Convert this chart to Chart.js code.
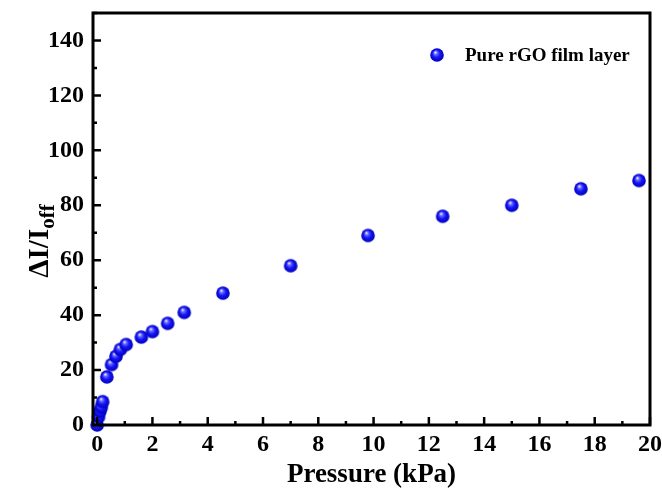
<!DOCTYPE html>
<html><head><meta charset="utf-8">
<script src="https://cdn.jsdelivr.net/npm/chart.js@4/dist/chart.umd.min.js"></script>
<style>html,body{margin:0;padding:0;background:#fff}#wrap{width:662px;height:491px;position:relative}</style>
</head><body><div id="wrap"><canvas id="c" width="662" height="491"></canvas></div>
<script>
// ---- data ----
const pressure = [0, 0.05, 0.1, 0.15, 0.2, 0.35, 0.52, 0.68, 0.84, 1.05, 1.6, 2.0, 2.55, 3.15, 4.55, 7.0, 9.8, 12.5, 15.0, 17.5, 19.6];
const response = [0, 3, 5, 6.5, 8.5, 17.5, 22, 25, 27.5, 29.3, 32, 34, 37, 41, 48, 58, 69, 76, 80, 86, 89];
const xTicks = [0, 2, 4, 6, 8, 10, 12, 14, 16, 18, 20];
const yTicks = [0, 20, 40, 60, 80, 100, 120, 140];
const seriesLabel = 'Pure rGO film layer';
const xTitle = 'Pressure (kPa)';
const yTitleMain = '\u0394I/I';
const yTitleSub = 'off';

const FONT = "'Liberation Serif','Times New Roman',serif";

function sphere(r) {
  const s = Math.ceil(r * 2) + 2;
  const c = document.createElement('canvas');
  c.width = s; c.height = s;
  const g = c.getContext('2d');
  const cx = s / 2, cy = s / 2;
  const grd = g.createRadialGradient(cx - r * 0.25, cy - r * 0.4, r * 0.05, cx, cy, r);
  grd.addColorStop(0, '#f0f0ff');
  grd.addColorStop(0.22, '#6a6aff');
  grd.addColorStop(0.55, '#1414f8');
  grd.addColorStop(1, '#0000b8');
  g.fillStyle = grd;
  g.beginPath(); g.arc(cx, cy, r, 0, Math.PI * 2); g.fill();
  return c;
}
const ball = sphere(6.8);

const framePlugin = {
  id: 'frame',
  afterDraw(chart) {
    const ctx = chart.ctx;
    const a = chart.chartArea;
    const xs = chart.scales.x, ys = chart.scales.y;
    ctx.save();
    ctx.strokeStyle = '#000';
    ctx.lineCap = 'butt';
    // ticks (inside)
    ctx.lineWidth = 2.5;
    ctx.beginPath();
    for (let v = 0; v <= 20; v += 1) {
      const px = xs.getPixelForValue(v);
      const len = (v % 2 === 0) ? 8 : 4;
      ctx.moveTo(px, a.bottom); ctx.lineTo(px, a.bottom - len);
    }
    for (let v = 0; v <= 150; v += 10) {
      const py = ys.getPixelForValue(v);
      const len = (v % 20 === 0) ? 8 : 4;
      ctx.moveTo(a.left, py); ctx.lineTo(a.left + len, py);
    }
    ctx.stroke();
    // frame
    ctx.lineWidth = 3;
    ctx.strokeRect(a.left, a.top, a.right - a.left, a.bottom - a.top);
    // y title with subscript
    ctx.fillStyle = '#000';
    ctx.translate(38, 241);
    ctx.rotate(-Math.PI / 2);
    ctx.font = 'bold 29px ' + FONT;
    const w1 = ctx.measureText(yTitleMain).width;
    ctx.font = 'bold 21px ' + FONT;
    const w2 = ctx.measureText(yTitleSub).width;
    const start = -(w1 + w2) / 2;
    ctx.textBaseline = 'alphabetic';
    ctx.textAlign = 'left';
    ctx.font = 'bold 29px ' + FONT;
    ctx.fillText(yTitleMain, start, 10);
    ctx.font = 'bold 21px ' + FONT;
    ctx.fillText(yTitleSub, start + w1, 16);
    ctx.restore();
    // legend
    ctx.save();
    ctx.drawImage(ball, 437 - ball.width / 2, 55 - ball.height / 2);
    ctx.fillStyle = '#000';
    ctx.font = 'bold 19px ' + FONT;
    ctx.textBaseline = 'middle';
    ctx.textAlign = 'left';
    ctx.fillText(chart.data.datasets[0].label, 465, 56);
    ctx.restore();
  }
};

new Chart(document.getElementById('c'), {
  type: 'scatter',
  data: {
    datasets: [{
      label: seriesLabel,
      data: pressure.map((p, i) => ({ x: p, y: response[i] })),
      pointStyle: ball,
      pointRadius: 6.8,
      pointHoverRadius: 6.8,
      clip: false
    }]
  },
  options: {
    responsive: false,
    animation: false,
    devicePixelRatio: 1,
    layout: { padding: { top: 13, right: 12, left: 0, bottom: 0 } },
    plugins: { legend: { display: false }, tooltip: { enabled: false } },
    scales: {
      x: {
        type: 'linear', min: -0.15, max: 20,
        afterBuildTicks: s => { s.ticks = xTicks.map(v => ({ value: v })); },
        afterFit: s => { s.height = 66; s.paddingLeft = 0; s.paddingRight = 0; },
        grid: { display: false, drawTicks: false },
        border: { display: false },
        ticks: { padding: 5, color: '#000', font: { family: FONT, size: 24, weight: 'bold' }, maxRotation: 0, autoSkip: false },
        title: { display: true, text: xTitle, color: '#000', font: { family: FONT, size: 27, weight: 'bold' }, padding: { top: -2, bottom: 0 } }
      },
      y: {
        type: 'linear', min: 0, max: 150,
        afterBuildTicks: s => { s.ticks = yTicks.map(v => ({ value: v })); },
        afterFit: s => { s.width = 93; s.paddingTop = 0; s.paddingBottom = 0; },
        grid: { display: false, drawTicks: false },
        border: { display: false },
        ticks: { padding: 9, color: '#000', font: { family: FONT, size: 24, weight: 'bold' }, autoSkip: false }
      }
    }
  },
  plugins: [framePlugin]
});
</script>
</body></html>
